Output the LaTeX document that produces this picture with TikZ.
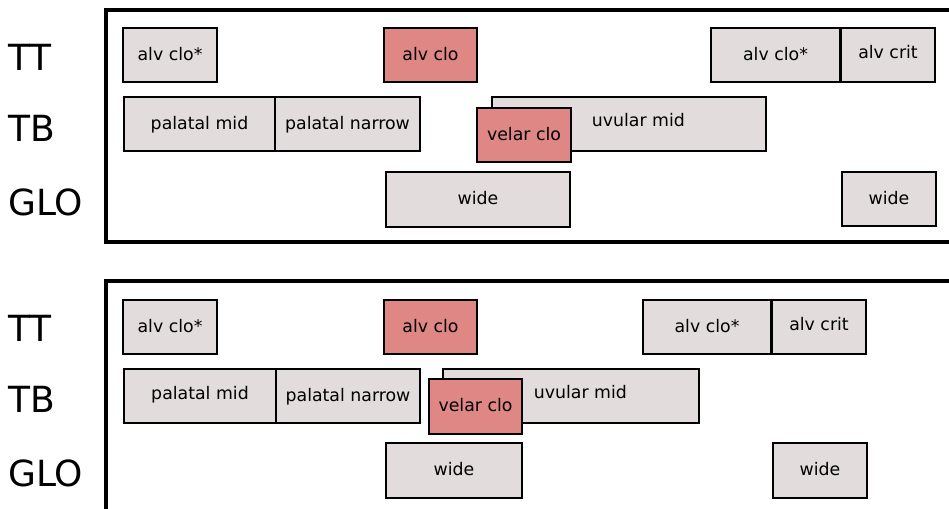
\documentclass[tikz,border=0pt]{standalone}
\usepackage{fontspec}
\setmainfont{DejaVu Sans}
\usetikzlibrary{fit}
\definecolor{gestgrey}{HTML}{E2DCDC}
\definecolor{gestred}{HTML}{DE8785}

\begin{document}
\begin{tikzpicture}[x=0.75pt,y=-0.75pt,
		gest/.style={draw,fill=gestgrey,line width=1.3pt,inner sep=0pt},
		active/.style={gest,fill=gestred},
		gesttext/.style={inner sep=0pt,font=\fontsize{13}{15}\selectfont,
			text height=0.76em,text depth=0pt},
		tier/.style={anchor=west,inner sep=0pt,font=\fontsize{27}{30}\selectfont},
		frame/.style={line width=2.6pt}
		]
		\useasboundingbox (0,0) rectangle (949,508);
		\clip (0,0) rectangle (949,508);
		
		% tier names, both panels
		\foreach \dy/\p in {0/a,271/b} {
			\node[tier] (tt\p) at (8,57+\dy) {TT};
			\node[tier] (tb\p) at (8,128+\dy) {TB};
			\node[tier] (glo\p) at (8,202+\dy) {GLO};
		}
		
		% upper panel
		\draw[frame] (960,10) -- (106,10) -- (106,242) -- (960,242);
		\node[gest,fit={(123,28) (217,82)},label={[gesttext]center:alv clo*}] (alvA) {};
		\node[active,fit={(384,28) (477,82)},label={[gesttext]center:alv clo}] (alvB) {};
		\node[gest,fit={(711,28) (840,82)},label={[gesttext]center:alv clo*}] (alvC) {};
		\node[gest,fit={(841,28) (935,82)},label={[gesttext,yshift=1.5pt]center:alv crit}] (critA) {};
		\node[gest,fit={(124,97) (275,151)},label={[gesttext]center:palatal mid}] (palA) {};
		\node[gest,fit={(275,97) (420,151)},label={[gesttext]center:palatal narrow}] (palB) {};
		\node[gest,fit={(492,97) (766,151)},label={[gesttext,xshift=7pt,yshift=2pt]center:uvular mid}] (uvuA) {};
		\node[active,fit={(477,108) (571,162)},label={[gesttext]center:velar clo}] (velA) {};
		\node[gest,fit={(386,172) (570,227)},label={[gesttext]center:wide}] (wideA) {};
		\node[gest,fit={(842,172) (936,226)},label={[gesttext]center:wide}] (wideB) {};
		
		% lower panel
		\draw[frame] (960,281) -- (106,281) -- (106,520);
		\node[gest,fit={(123,300) (217,354)},label={[gesttext]center:alv clo*}] (alvD) {};
		\node[active,fit={(384,300) (477,354)},label={[gesttext]center:alv clo}] (alvE) {};
		\node[gest,fit={(643,300) (771,354)},label={[gesttext]center:alv clo*}] (alvF) {};
		\node[gest,fit={(772,300) (866,354)},label={[gesttext,yshift=1.5pt]center:alv crit}] (critB) {};
		\node[gest,fit={(124,369) (276,423)},label={[gesttext,yshift=1pt]center:palatal mid}] (palC) {};
		\node[gest,fit={(276,369) (420,423)},label={[gesttext]center:palatal narrow}] (palD) {};
		\node[gest,fit={(443,369) (699,423)},label={[gesttext,xshift=7pt,yshift=2pt]center:uvular mid}] (uvuB) {};
		\node[active,fit={(429,379) (522,434)},label={[gesttext]center:velar clo}] (velB) {};
		\node[gest,fit={(386,443) (522,498)},label={[gesttext]center:wide}] (wideC) {};
		\node[gest,fit={(773,443) (867,498)},label={[gesttext]center:wide}] (wideD) {};
	\end{tikzpicture}
\end{document}
